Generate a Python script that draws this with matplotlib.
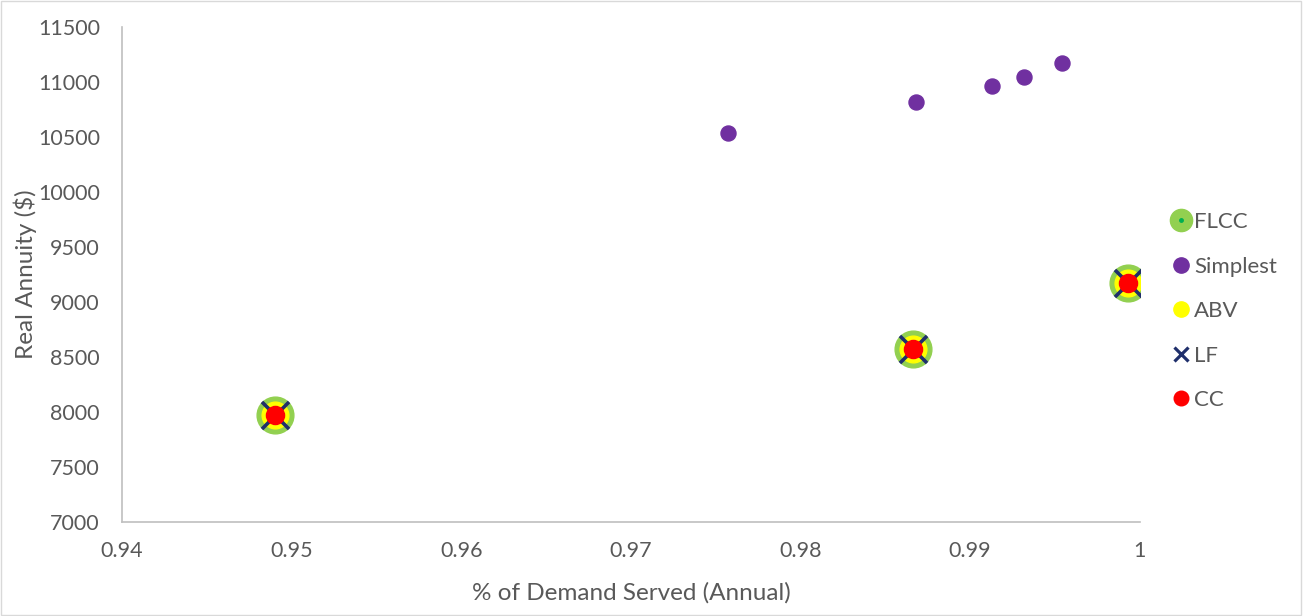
import numpy as np
import matplotlib.pyplot as plt
from matplotlib.lines import Line2D

# Simplest series
simple_x = [0.9757, 0.9868, 0.9913, 0.9932, 0.9954]
simple_y = [10536, 10820, 10965, 11050, 11170]

# FLCC / ABV / LF / CC share the same points
group_x = [0.9490, 0.98665, 0.99930]
group_y = [7970, 8570, 9175]

labels = ['FLCC', 'Simplest', 'ABV', 'LF', 'CC']
xticks = [0.94, 0.95, 0.96, 0.97, 0.98, 0.99, 1.0]
xtick_labels = ['0.94', '0.95', '0.96', '0.97', '0.98', '0.99', '1']
yticks = np.arange(7000, 11501, 500)

green = '#92d050'
purple = '#7030a0'
yellow = '#ffff00'
navy = '#1f2f6b'
red = '#ff0000'
txt = '#595959'

plt.rcParams['font.family'] = ['Lato', 'DejaVu Sans']

fig = plt.figure(figsize=(13.04, 6.16), dpi=100)
ax = fig.add_axes([0.0936, 0.1526, 0.7804, 0.8034])

ax.scatter(simple_x, simple_y, s=117, color=purple, zorder=3)
ax.scatter(group_x, group_y, s=700, color=green, zorder=3)
ax.scatter(group_x, group_y, s=370, color=yellow, zorder=4)
ax.scatter(group_x, group_y, s=380, marker='x', color=navy, linewidths=2.6, zorder=5)
ax.scatter(group_x, group_y, s=170, color=red, zorder=6)

ax.set_xlim(0.94, 1.0)
ax.set_ylim(7000, 11500)
ax.set_xticks(xticks)
ax.set_xticklabels(xtick_labels)
ax.set_yticks(yticks)
ax.tick_params(length=0, labelsize=15.5, labelcolor=txt)
ax.tick_params(axis='x', pad=14)
ax.tick_params(axis='y', pad=16)
for s in ['top', 'right']:
    ax.spines[s].set_visible(False)
for s in ['left', 'bottom']:
    ax.spines[s].set_color('#bfbfbf')
    ax.spines[s].set_linewidth(1.2)

ax.set_xlabel('% of Demand Served (Annual)', fontsize=17.5, color=txt, labelpad=15)
ax.set_ylabel('Real Annuity ($)', fontsize=17.5, color=txt)
ax.yaxis.set_label_coords(-0.0835, 0.5)

flcc_h = (Line2D([], [], ls='', marker='o', markersize=16, color=green),
          Line2D([], [], ls='', marker='o', markersize=2.5, color='#00b050'))
handles = [
    flcc_h,
    Line2D([], [], ls='', marker='o', markersize=11, color=purple),
    Line2D([], [], ls='', marker='o', markersize=11, color=yellow),
    Line2D([], [], ls='', marker='x', markersize=10.5, color=navy, markeredgewidth=2.3),
    Line2D([], [], ls='', marker='o', markersize=10.5, color=red),
]
leg = fig.legend(handles, labels, loc='upper left', bbox_to_anchor=(0.880, 0.688),
                 frameon=False, fontsize=16, labelspacing=1.1, handletextpad=0.0,
                 handlelength=1.2, labelcolor=txt)

fig.patches.append(plt.Rectangle((0.001, 0.002), 0.997, 0.996, transform=fig.transFigure,
                                 fill=False, edgecolor='#d9d9d9', linewidth=1))

plt.savefig('out.png')
plt.close()
